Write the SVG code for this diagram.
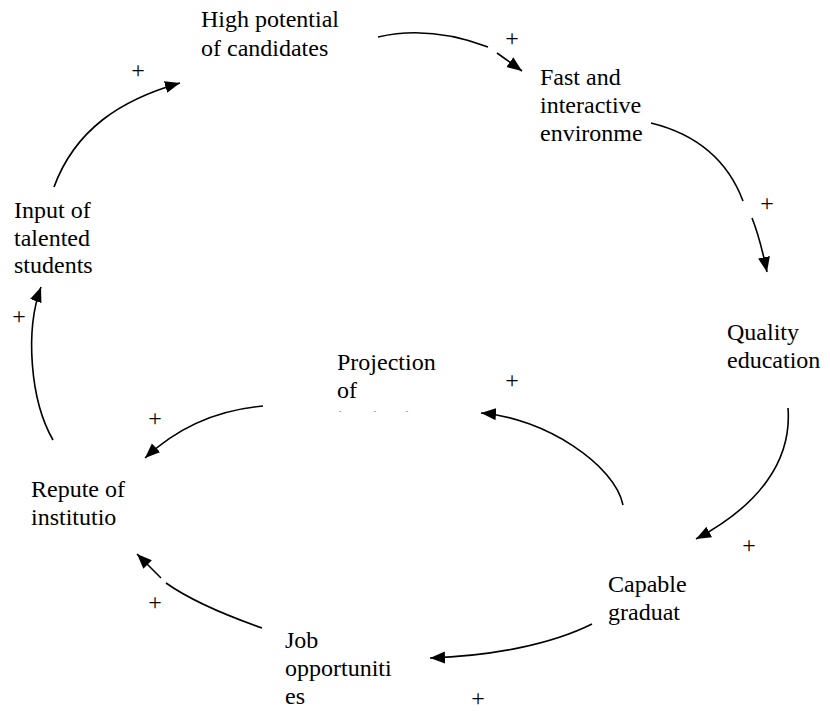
<svg xmlns="http://www.w3.org/2000/svg" width="830" height="711" viewBox="0 0 830 711">
<style>
  text { font-family: "Liberation Serif", "Times New Roman", serif; font-size: 24px; fill: #000; }
  .c { fill: none; stroke: #000; stroke-width: 1.6; }
  .p { text-anchor: middle; }
</style>
<defs>
  <marker id="ah" markerUnits="userSpaceOnUse" markerWidth="16" markerHeight="13" refX="15" refY="6" orient="auto">
    <path d="M0,0 L15,6 L0,12 z" fill="#000"/>
  </marker>
  <clipPath id="clipProj">
    <rect x="300" y="340" width="200" height="71.5"/>
  </clipPath>
</defs>
<rect x="0" y="0" width="830" height="711" fill="#fff"/>

<g id="connectors">
  <path class="c" d="M378,37 Q430,25 488,47"/>
  <path class="c" d="M497,53 L522,71" marker-end="url(#ah)"/>

  <path class="c" d="M651,123 Q720,140 743,201"/>
  <path class="c" d="M752,218 Q760,238 767,272" marker-end="url(#ah)"/>

  <path class="c" d="M788,408 C792,460 760,505 696,539" marker-end="url(#ah)"/>

  <path class="c" d="M623,505 C615,465 545,418 481,413" marker-end="url(#ah)"/>

  <path class="c" d="M263,406 C215,410 175,430 145,458" marker-end="url(#ah)"/>

  <path class="c" d="M53,440 C30,400 25,330 41,287" marker-end="url(#ah)"/>

  <path class="c" d="M54,187 C75,130 120,100 180,83" marker-end="url(#ah)"/>

  <path class="c" d="M592,624 C550,645 490,656 430,658" marker-end="url(#ah)"/>

  <path class="c" d="M262,628 C225,615 190,600 166,583"/>
  <path class="c" d="M161,578 L137,554" marker-end="url(#ah)"/>

  <g id="polarities">
    <text class="p" x="512" y="46">+</text>
    <text class="p" x="138" y="78">+</text>
    <text class="p" x="767" y="211">+</text>
    <text class="p" x="19" y="324">+</text>
    <text class="p" x="512" y="388">+</text>
    <text class="p" x="155" y="426">+</text>
    <text class="p" x="749" y="553">+</text>
    <text class="p" x="155" y="610">+</text>
    <text class="p" x="478" y="706">+</text>
  </g>
</g>

<g id="node-high-potential">
  <text x="201" y="27">High potential</text>
  <text x="201" y="56">of candidates</text>
</g>
<g id="node-fast-interactive">
  <text x="540" y="85">Fast and</text>
  <text x="540" y="113">interactive</text>
  <text x="540" y="141">environme</text>
</g>
<g id="node-quality-education">
  <text x="727" y="340">Quality</text>
  <text x="727" y="367.6">education</text>
</g>
<g id="node-capable-graduates">
  <text x="608" y="592">Capable</text>
  <text x="608" y="620">graduat</text>
</g>
<g id="node-job-opportunities">
  <text x="285" y="648">Job</text>
  <text x="285" y="676">opportuniti</text>
  <text x="285" y="704">es</text>
</g>
<g id="node-repute">
  <text x="31" y="497">Repute of</text>
  <text x="31" y="525">institutio</text>
</g>
<g id="node-input-talented">
  <text x="14" y="218">Input of</text>
  <text x="14" y="246">talented</text>
  <text x="14" y="273">students</text>
</g>
<g id="node-projection">
  <text x="337" y="370">Projection</text>
  <text x="337" y="398">of</text>
  <text x="337" y="426" clip-path="url(#clipProj)">institution</text>
</g>
</svg>
